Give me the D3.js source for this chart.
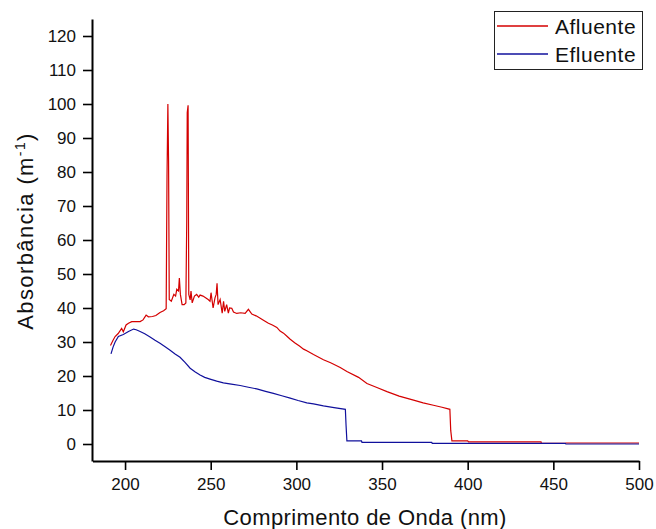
<!DOCTYPE html>
<html>
<head>
<meta charset="utf-8">
<script src="https://cdn.jsdelivr.net/npm/d3@7"></script>
<style>
  body { margin: 0; background: #fff; }
  svg { font-family: "Liberation Sans", Arial, sans-serif; }
  .axis path, .axis line { stroke: #000; }
  .axis text { font-size: 17px; fill: #111; }
</style>
</head>
<body>
<svg width="656" height="529"></svg>
<script>
// Afluente (red) spectrum, wavelength in nm and absorbance in 1/m
const afluenteNm = [191.5, 193, 194.2, 196, 198, 199, 200.6, 202, 203.9, 206, 208.8, 210.5, 212.3, 213.6, 216, 218, 220.4, 222.5, 224,
  224.5, 225, 225.4, 225.8, 227, 228.5, 229.5, 230.2, 231.2, 231.7, 232.3, 233.3, 234.5, 235.5, 236, 236.3, 236.8, 237.2,
  238, 238.5, 239.2, 240.5, 241.8, 243, 243.8, 245.5, 247, 248.5, 249.6, 250.2, 251.4, 252.5, 253.2, 253.7, 254.3, 255.5,
  256.7, 257.5, 258.2, 259.3, 260.3, 261, 262.3, 263.3, 265.2, 267.5, 270.1, 272, 274, 276.5, 278.9, 281.5, 283.7, 286,
  288.6, 290.5, 292.5, 294.5, 296.4, 299, 301.8, 304.2, 306.1, 310, 315.8, 320, 325.6, 329.5, 336.3, 341.2, 347, 352.9,
  360, 368.4, 374, 380, 385, 389.6, 390.1, 390.8, 400, 400.5, 442.8, 443, 457, 457.5, 500];
const afluenteAbs = [29.0, 30.5, 31.6, 32.5, 34.0, 33.0, 35.0, 35.5, 36.0, 36.0, 36.0, 36.5, 37.9, 37.4, 37.5, 37.8, 38.7, 39.2, 39.8,
  79, 100, 83, 42.5, 42, 44, 43.5, 45.5, 45, 48.8, 44, 41, 41, 41.5, 65, 97.5, 99.6, 44,
  42.4, 45, 41.5, 43.5, 44, 43.2, 43.8, 43.5, 43, 42.5, 42, 44.5, 40, 43, 44, 47.3, 41, 42.5,
  38.5, 42, 39, 41, 38.5, 40, 39.9, 38.8, 38.4, 38.6, 38.4, 39.6, 38.2, 37.7, 37, 36.2, 35.5, 35,
  34.3, 33.2, 32.6, 31.7, 30.8, 29.8, 28.8, 27.9, 27.4, 26.3, 24.8, 23.9, 22.5, 21.3, 19.6, 17.8, 16.6, 15.4,
  14.1, 12.9, 12.1, 11.4, 10.8, 10.2, 4.0, 0.9, 0.9, 0.6, 0.6, 0.2, 0.2, 0.3, 0.3];

// Efluente (blue) spectrum
const efluenteNm = [191.8, 193, 194.2, 196.1, 199, 202, 205, 206.5, 208.8, 211.5, 214.6, 217.5, 220.4, 223.4, 226.3, 229.2,
  232.1, 235, 238, 241, 243.8, 246.5, 249.6, 253.5, 257.4, 262, 267.2, 272, 276.9, 282, 286.6, 291.5, 296.4, 301,
  306.1, 310, 315.8, 322, 328.6, 329, 329.5, 338, 338.3, 379, 379.3, 457, 457.3, 500];
const efluenteAbs = [26.5, 28.5, 30.0, 31.6, 32.2, 33.1, 33.8, 33.6, 33.1, 32.4, 31.5, 30.5, 29.6, 28.6, 27.6, 26.5,
  25.5, 24, 22.3, 21.2, 20.3, 19.6, 19.1, 18.5, 18.0, 17.6, 17.2, 16.7, 16.2, 15.5, 14.9, 14.2, 13.5, 12.8,
  12.1, 11.8, 11.2, 10.7, 10.2, 5.5, 0.9, 0.9, 0.5, 0.5, 0.2, 0.2, 0.0, 0.0];

const xTicks = [200, 250, 300, 350, 400, 450, 500];
const xMinor = [225, 275, 325, 375, 425, 475];
const yTicks = [0, 10, 20, 30, 40, 50, 60, 70, 80, 90, 100, 110, 120];
const yMinor = [-5, 5, 15, 25, 35, 45, 55, 65, 75, 85, 95, 105, 115, 125];

const seriesNames = ['Afluente', 'Efluente'];
const seriesColors = ['#d40000', '#10109c'];

const svg = d3.select('svg');

const x = d3.scaleLinear().domain([181, 500]).range([92.5, 639]);
const y = d3.scaleLinear().domain([-5, 125]).range([461, 19]);

// axes
const gx = svg.append('g').attr('class', 'axis').attr('transform', 'translate(0,461)');
gx.call(d3.axisBottom(x).tickValues(xMinor).tickSize(5).tickFormat('').tickSizeOuter(0));
gx.call(d3.axisBottom(x).tickValues(xTicks).tickSize(9).tickPadding(8).tickSizeOuter(0));
gx.selectAll('line').attr('stroke-width', 1.6);

const gy = svg.append('g').attr('class', 'axis').attr('transform', 'translate(92,0)');
gy.call(d3.axisLeft(y).tickValues(yMinor).tickSize(5).tickFormat('').tickSizeOuter(0));
gy.call(d3.axisLeft(y).tickValues(yTicks).tickSize(9).tickPadding(7).tickSizeOuter(0));
gy.selectAll('line').attr('stroke-width', 1.6);
svg.selectAll('.axis .domain').attr('stroke-width', 2);

// lines
const line = d3.line().x(d => x(d[0])).y(d => y(d[1]));
const afluente = d3.zip(afluenteNm, afluenteAbs);
const efluente = d3.zip(efluenteNm, efluenteAbs);

svg.append('path').datum(afluente)
  .attr('fill', 'none').attr('stroke', seriesColors[0]).attr('stroke-width', 1.2)
  .attr('d', line);
svg.append('path').datum(efluente)
  .attr('fill', 'none').attr('stroke', seriesColors[1]).attr('stroke-width', 1.2)
  .attr('d', line);

// axis titles
svg.append('text')
  .attr('x', 365).attr('y', 525)
  .attr('text-anchor', 'middle')
  .style('font-size', '22px').style('letter-spacing', '0.4px').attr('fill', '#111')
  .text('Comprimento de Onda (nm)');

const yt = svg.append('text')
  .attr('transform', 'translate(33,231) rotate(-90)')
  .attr('text-anchor', 'middle')
  .style('font-size', '22px').style('letter-spacing', '1.4px').attr('fill', '#111');
yt.append('tspan').text('Absorbância (m');
yt.append('tspan').attr('dy', -8).style('font-size', '14px').text('-1');
yt.append('tspan').attr('dy', 8).text(')');

// legend
const legend = svg.append('g');
legend.append('rect')
  .attr('x', 494.5).attr('y', 11.5).attr('width', 148).attr('height', 58)
  .attr('fill', '#fff').attr('stroke', '#222').attr('stroke-width', 1);
seriesNames.forEach((name, i) => {
  const ly = 26 + i * 28;
  legend.append('line')
    .attr('x1', 497).attr('x2', 548).attr('y1', ly).attr('y2', ly)
    .attr('stroke', seriesColors[i]).attr('stroke-width', 1.3);
  legend.append('text')
    .attr('x', 555).attr('y', ly + 8)
    .style('font-size', '21px').style('letter-spacing', '0.5px').attr('fill', '#111')
    .text(name);
});
</script>
</body>
</html>
